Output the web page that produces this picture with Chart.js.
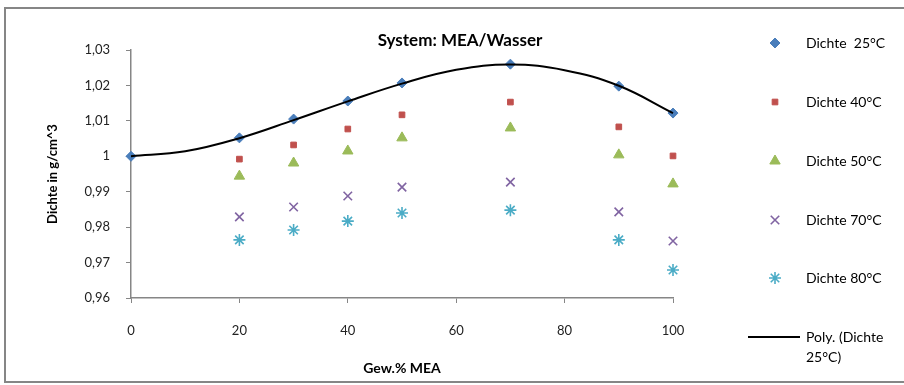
<!DOCTYPE html>
<html>
<head>
<meta charset="utf-8">
<script src="https://cdn.jsdelivr.net/npm/chart.js@4/dist/chart.umd.min.js"></script>
<style>
  html, body { margin: 0; padding: 0; background: #fff; }
  canvas { display: block; }
</style>
</head>
<body>
<canvas id="chart" width="904" height="385"></canvas>
<script>
// Messwerte: Dichte von MEA/Wasser-Gemischen
const gew25 = [0, 20, 30, 40, 50, 70, 90, 100];
const gew = [20, 30, 40, 50, 70, 90, 100];
const dichte25 = [1.0000, 1.0052, 1.0105, 1.0156, 1.0207, 1.0260, 1.0198, 1.0122];
const dichte40 = [0.9992, 1.0032, 1.0077, 1.0117, 1.0153, 1.0083, 1.0001];
const dichte50 = [0.9944, 0.9981, 1.0015, 1.0052, 1.0080, 1.0004, 0.9922];
const dichte70 = [0.9829, 0.9857, 0.9888, 0.9913, 0.9927, 0.9843, 0.9761];
const dichte80 = [0.9764, 0.9792, 0.9817, 0.9840, 0.9848, 0.9764, 0.9679];

// Trendlinie (Polynom) für 25°C
const polyX = [0, 10, 20, 30, 40, 50, 60, 70, 80, 90, 100];
const polyY = [1.0000, 1.0014, 1.0051, 1.0102, 1.0155, 1.0205, 1.0244, 1.0259, 1.0243, 1.0199, 1.0122];

const xTicks = [0, 20, 40, 60, 80, 100];
const yTicks = [0.96, 0.97, 0.98, 0.99, 1.00, 1.01, 1.02, 1.03];

const FONT = 'Lato, "Open Sans", sans-serif';
const GRAU = '#868686';

function punkte(xs, ys) {
  return xs.map((x, i) => ({ x: x, y: ys[i] }));
}

function komma(v) {
  return String(+v.toFixed(2)).replace('.', ',');
}

const serien = [
  { label: 'Dichte  25°C', data: punkte(gew25, dichte25), color: '#4A7EBB', pointStyle: 'rectRot', radius: 5, borderWidth: 1 },
  { label: 'Dichte 40°C', data: punkte(gew, dichte40), color: '#C0504D', pointStyle: 'rect', radius: 4, borderWidth: 1 },
  { label: 'Dichte 50°C', data: punkte(gew, dichte50), color: '#9BBB59', pointStyle: 'triangle', radius: 6, borderWidth: 1 },
  { label: 'Dichte 70°C', data: punkte(gew, dichte70), color: '#8064A2', pointStyle: 'crossRot', radius: 6, borderWidth: 1.6 },
  { label: 'Dichte 80°C', data: punkte(gew, dichte80), color: '#4BACC6', pointStyle: 'star', radius: 6, borderWidth: 1.6 }
];

const datasets = serien.map(s => ({
  type: 'scatter',
  label: s.label,
  data: s.data,
  showLine: false,
  clip: false,
  pointStyle: s.pointStyle,
  pointRadius: s.radius,
  pointHoverRadius: s.radius,
  pointBorderWidth: s.borderWidth,
  backgroundColor: s.color,
  borderColor: s.color,
  order: 1
}));

datasets.push({
  type: 'line',
  label: 'Poly. (Dichte 25°C)',
  data: punkte(polyX, polyY),
  borderColor: '#000',
  borderWidth: 2,
  pointRadius: 0,
  fill: false,
  clip: false,
  tension: 0.4,
  order: 0
});

// Rahmen, Titel, Achsentitel und Legende
const beschriftung = {
  id: 'beschriftung',
  beforeDraw(chart) {
    const ctx = chart.ctx;
    ctx.save();
    ctx.fillStyle = '#fff';
    ctx.fillRect(0, 0, chart.width, chart.height);
    ctx.restore();
  },
  afterDraw(chart) {
    const ctx = chart.ctx;
    const area = chart.chartArea;
    ctx.save();

    ctx.strokeStyle = GRAU;
    ctx.lineWidth = 2;
    ctx.strokeRect(5, 8, chart.width + 10, 374);

    ctx.fillStyle = '#000';
    ctx.textAlign = 'center';
    ctx.textBaseline = 'middle';
    ctx.font = 'bold 17px ' + FONT;
    ctx.fillText('System: MEA/Wasser', 460, 41);

    ctx.font = 'bold 14px ' + FONT;
    ctx.fillText('Gew.% MEA', (area.left + area.right) / 2, 368);

    ctx.save();
    ctx.translate(53, (area.top + area.bottom) / 2);
    ctx.rotate(-Math.PI / 2);
    ctx.font = 'bold 13px ' + FONT;
    ctx.fillText('Dichte in g/cm^3', 0, 0);
    ctx.restore();

    // Legende
    const zeilen = [43, 102, 161, 220, 278];
    ctx.font = '14px ' + FONT;
    ctx.textAlign = 'left';
    serien.forEach((s, i) => {
      ctx.fillStyle = s.color;
      ctx.strokeStyle = s.color;
      ctx.lineWidth = s.borderWidth;
      Chart.helpers.drawPoint(ctx, {
        pointStyle: s.pointStyle,
        radius: s.radius,
        rotation: 0,
        borderWidth: s.borderWidth
      }, 775, zeilen[i]);
      ctx.fillStyle = '#000';
      ctx.fillText(s.label, 806, zeilen[i]);
    });
    ctx.strokeStyle = '#000';
    ctx.lineWidth = 2;
    ctx.beginPath();
    ctx.moveTo(748, 337);
    ctx.lineTo(800, 337);
    ctx.stroke();
    ctx.fillStyle = '#000';
    ctx.fillText('Poly. (Dichte', 806, 337);
    ctx.fillText('25°C)', 806, 357);

    ctx.restore();
  }
};

new Chart(document.getElementById('chart'), {
  data: { datasets: datasets },
  options: {
    responsive: false,
    animation: false,
    layout: { padding: { left: 0, top: 50, right: 231, bottom: 0 } },
    plugins: {
      legend: { display: false },
      title: { display: false },
      tooltip: { enabled: false }
    },
    scales: {
      x: {
        type: 'linear',
        min: 0,
        max: 100,
        afterFit(scale) { scale.height = 87; },
        afterBuildTicks(scale) { scale.ticks = xTicks.map(v => ({ value: v })); },
        grid: { drawOnChartArea: false, drawTicks: true, tickLength: 5, color: GRAU },
        border: { color: GRAU, width: 1.5 },
        ticks: { color: '#222', padding: 20, font: { family: FONT, size: 13 } }
      },
      y: {
        type: 'linear',
        min: 0.96,
        max: 1.03,
        afterFit(scale) { scale.width = 131; },
        afterBuildTicks(scale) { scale.ticks = yTicks.map(v => ({ value: v })); },
        grid: { drawOnChartArea: false, drawTicks: true, tickLength: 5, color: GRAU },
        border: { color: GRAU, width: 1.5 },
        ticks: { color: '#222', padding: 16, font: { family: FONT, size: 13 }, callback: v => komma(v) }
      }
    }
  },
  plugins: [beschriftung]
});
</script>
</body>
</html>
